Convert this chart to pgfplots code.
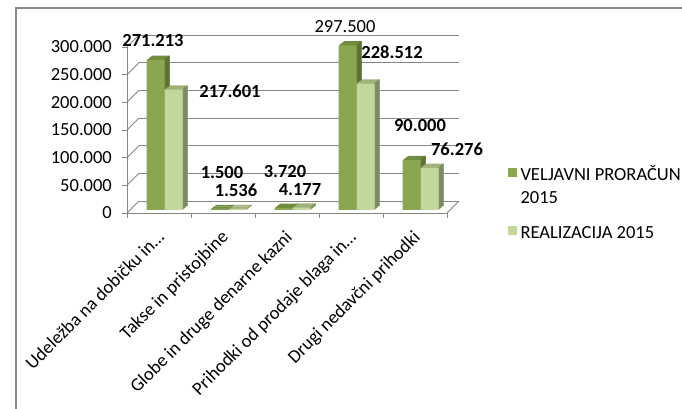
\documentclass[border=0pt]{standalone}
\usepackage{fontspec}
\setmainfont{Carlito}
\usepackage{pgfplots}
\usepackage{pgfplotstable}
\pgfplotsset{compat=1.18}
\definecolor{dfront}{RGB}{138,166,80}
\definecolor{dtop}{RGB}{112,140,62}
\definecolor{dside}{RGB}{92,115,48}
\definecolor{lfront}{RGB}{195,214,155}
\definecolor{ltop}{RGB}{160,178,122}
\definecolor{lside}{RGB}{125,140,96}
\definecolor{gridc}{RGB}{134,134,134}

\pgfplotstableread{
x v
0 271213
1 1500
2 3720
3 297500
4 90000
}\budget
\pgfplotstableread{
x v
0 217601
1 1536
2 4177
3 228512
4 76276
}\realiz

\begin{document}
\begin{tikzpicture}[font=\fontsize{18.5pt}{22pt}\selectfont]
\useasboundingbox (0,0) rectangle (682pt,409pt);
\draw[gridc, line width=1.2pt] (16pt,-5pt) -- (16pt,401pt) -- (690pt,401pt);
% back wall
\begin{axis}[scale only axis, width=320pt, height=166pt, at={(139pt,208pt)}, anchor=south west,
  xmin=-0.5, xmax=4.5, ymin=0, ymax=300000, scaled ticks=false,
  xtick=\empty, ytick={0,50000,...,300000}, yticklabels={}, major tick length=0pt,
  axis line style={draw=none}, ymajorgrids, grid style={gridc, line width=0.9pt}]
\end{axis}
% front
\begin{axis}[scale only axis, width=320pt, height=166pt, at={(127pt,196pt)}, anchor=south west,
  xmin=-0.5, xmax=4.5, ymin=0, ymax=300000, clip=false, scaled ticks=false,
  axis x line*=bottom, axis y line*=left,
  axis line style={gridc, line width=0.9pt},
  tick align=outside, major tick length=5pt, tick style={gridc, line width=0.9pt},
  xtick={-0.5,0.5,...,4.5}, xticklabels={},
  extra x ticks={0,1,2,3,4},
  extra x tick labels={Udeležba na dobičku in…, Takse in pristojbine, Globe in druge denarne kazni, Prihodki od prodaje blaga in…, Drugi nedavčni prihodki},
  extra x tick style={major tick length=0pt, xticklabel style={xshift=-3pt, yshift=-16pt, rotate=45, anchor=north east, inner sep=0pt}},
  ytick={0,50000,...,300000},
  yticklabels={0,50.000,100.000,150.000,200.000,250.000,300.000},
  yticklabel style={anchor=east, inner sep=0pt, xshift=-10pt},
  legend style={at={(1.19,0.298)}, anchor=north west, draw=none, fill=none, inner sep=0pt,
    cells={anchor=base west, inner sep=1.5pt}, row sep=4pt, column sep=1.5pt},
]
% floor and side wall
\draw[gridc, line width=0.9pt] (axis cs:4.5,0) -- ++(12pt,12pt);
\pgfplotsinvokeforeach{0,50000,100000,150000,200000,250000,300000}{
  \draw[gridc, line width=0.9pt] (axis cs:-0.5,#1) -- ++(12pt,12pt);
}
% budget bars (3D): top, side, front
\pgfplotsinvokeforeach{6,5,4,3,2,1}{
  \addplot[ybar, bar width=18pt, bar shift=-3.5pt, fill=dtop, draw=none,
    xshift=#1*0.85pt, yshift=3pt+#1*0.7pt, forget plot] table[x=x,y=v]{\budget};
}
\pgfplotsinvokeforeach{1,2,3,4,5,6}{
  \addplot[ybar, bar width=0.95pt, bar shift=5.5pt+#1*0.85pt-0.425pt, fill=dside, draw=none,
    yshift=3pt+#1*0.7pt, forget plot] table[x=x,y=v]{\budget};
}
\addplot[ybar, bar width=18pt, bar shift=-3.5pt, fill=dfront, draw=none, yshift=3pt,
  legend image code/.code={\fill[dfront] (0pt,1pt) rectangle (9pt,10pt);}] table[x=x,y=v]{\budget};
\addlegendentry{VELJAVNI PRORAČUN\rule[-1pt]{0pt}{14pt}}
\addlegendimage{empty legend}
\addlegendentry{2015\rule[-1pt]{0pt}{14pt}}
% realization bars (3D)
\pgfplotsinvokeforeach{6,5,4,3,2,1}{
  \addplot[ybar, bar width=18pt, bar shift=14.5pt, fill=ltop, draw=none,
    xshift=#1*0.85pt, yshift=3pt+#1*0.7pt, forget plot] table[x=x,y=v]{\realiz};
}
\pgfplotsinvokeforeach{1,2,3,4,5,6}{
  \addplot[ybar, bar width=0.95pt, bar shift=23.5pt+#1*0.85pt-0.425pt, fill=lside, draw=none,
    yshift=3pt+#1*0.7pt, forget plot] table[x=x,y=v]{\realiz};
}
\addplot[ybar, bar width=18pt, bar shift=14.5pt, fill=lfront, draw=none, yshift=3pt,
  legend image code/.code={\fill[lfront] (0pt,1pt) rectangle (9pt,10pt);}] table[x=x,y=v]{\realiz};
\addlegendentry{REALIZACIJA 2015\rule[-1pt]{0pt}{27pt}}
% data labels
\node[font=\fontsize{18.5pt}{22pt}\selectfont\bfseries] at (axis cs:-0.094,312600) {271.213};
\node[font=\fontsize{18.5pt}{22pt}\selectfont\bfseries] at (axis cs:1.109,220500) {217.601};
\node[font=\fontsize{18.5pt}{22pt}\selectfont\bfseries] at (axis cs:0.984,72300) {1.500};
\node[font=\fontsize{18.5pt}{22pt}\selectfont\bfseries] at (axis cs:1.203,41600) {1.536};
\node[font=\fontsize{18.5pt}{22pt}\selectfont\bfseries] at (axis cs:1.969,74100) {3.720};
\node[font=\fontsize{18.5pt}{22pt}\selectfont\bfseries] at (axis cs:2.203,41600) {4.177};
\node[font=\fontsize{18.5pt}{22pt}\selectfont] at (axis cs:2.906,336100) {297.500};
\node[font=\fontsize{18.5pt}{22pt}\selectfont\bfseries] at (axis cs:3.641,291000) {228.512};
\node[font=\fontsize{18.5pt}{22pt}\selectfont\bfseries] at (axis cs:4.078,159000) {90.000};
\node[font=\fontsize{18.5pt}{22pt}\selectfont\bfseries] at (axis cs:4.656,115700) {76.276};
\end{axis}
\end{tikzpicture}
\end{document}
